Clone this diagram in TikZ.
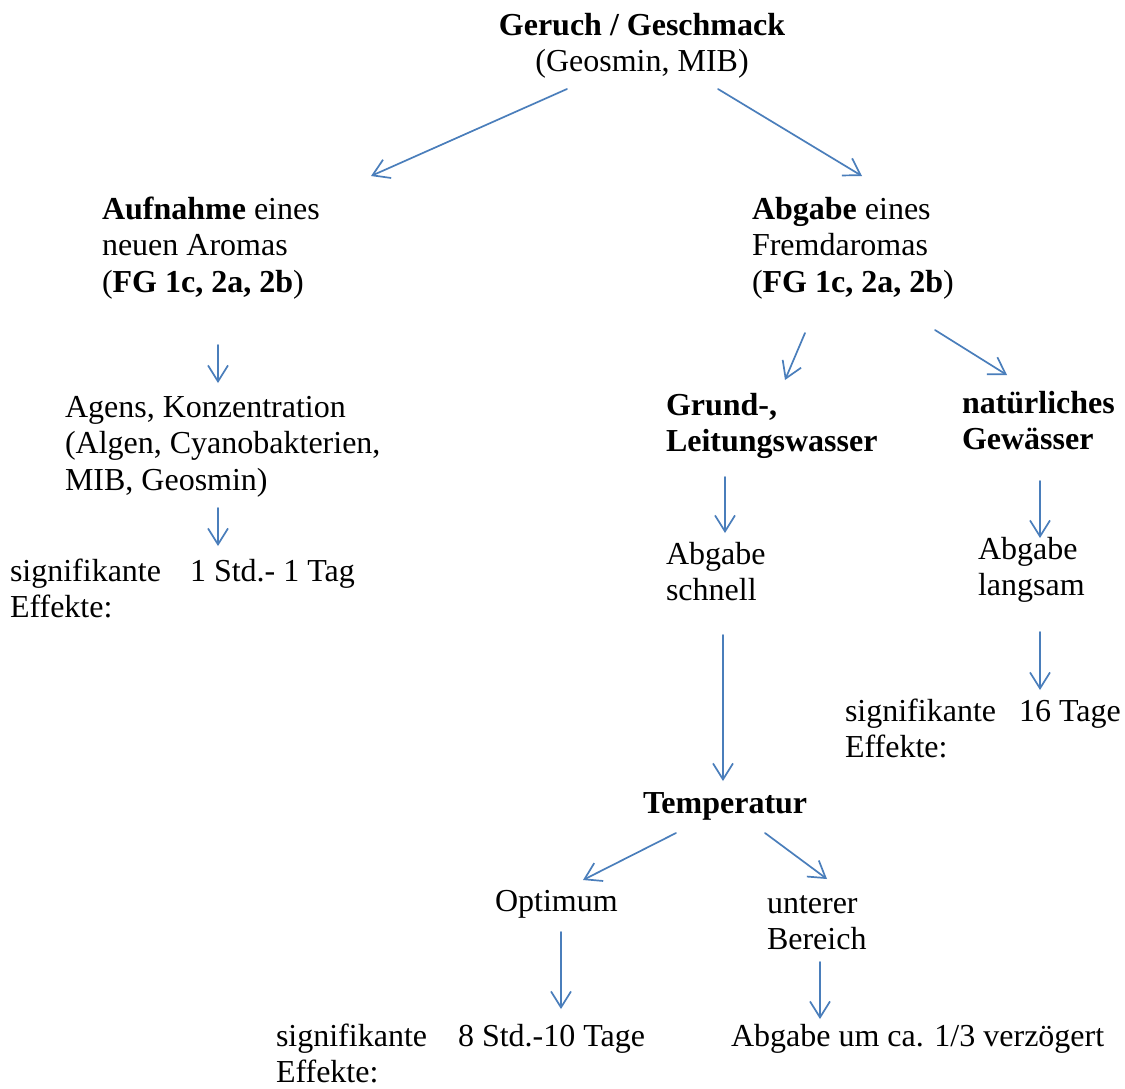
\documentclass[tikz,border=0pt]{standalone}
\usepackage{fontspec}
\setmainfont{Liberation Serif}
\usetikzlibrary{arrows.meta}
\definecolor{arrblue}{HTML}{4A7EBB}
\newcommand{\mll}[1]{\begin{tabular}[t]{@{}l@{}}#1\end{tabular}}
\newcommand{\mlc}[1]{\begin{tabular}[t]{@{}c@{}}#1\end{tabular}}
\begin{document}
\begin{tikzpicture}[x=1pt,y=-1pt,
  txt/.style={anchor=base west,inner sep=0pt,outer sep=0pt,font=\fontsize{32}{36.5}\selectfont},
  arr/.style={draw=arrblue,line width=1.7pt,line cap=round,-{Straight Barb[length=16pt,width=20pt,line width=1.7pt]}}]
\useasboundingbox[fill=white] (0,0) rectangle (1125,1088);

\node[txt,anchor=base] (top) at (642,35) {\mlc{\textbf{Geruch / Geschmack}\\(Geosmin, MIB)}};
\node[txt] (auf) at (102,219) {\mll{\textbf{Aufnahme} eines\\neuen Aromas\\(\textbf{FG 1c, 2a, 2b})}};
\node[txt] (abg) at (752,219) {\mll{\textbf{Abgabe} eines\\Fremdaromas\\(\textbf{FG 1c, 2a, 2b})}};
\node[txt] (agens) at (65,417) {\mll{Agens, Konzentration\\(Algen, Cyanobakterien,\\MIB, Geosmin)}};
\node[txt] (sig1) at (10,581) {\mll{signifikante\\Effekte:}};
\node[txt] (t1) at (190,581) {1 Std.- 1 Tag};
\node[txt] (grund) at (666,415) {\mll{\textbf{Grund-,}\\\textbf{Leitungswasser}}};
\node[txt] (nat) at (962,413) {\mll{\textbf{natürliches}\\\textbf{Gewässer}}};
\node[txt] (schnell) at (666,564) {\mll{Abgabe\\schnell}};
\node[txt] (langsam) at (978,559) {\mll{Abgabe\\langsam}};
\node[txt] (sig2) at (845,721) {\mll{signifikante\\Effekte:}};
\node[txt] (t2) at (1019,721) {16 Tage};
\node[txt] (temp) at (643,813) {\textbf{Temperatur}};
\node[txt] (opt) at (495,911) {Optimum};
\node[txt] (unt) at (767,913) {\mll{unterer\\Bereich}};
\node[txt] (sig3) at (276,1046) {\mll{signifikante\\Effekte:}};
\node[txt] (t3) at (458,1046) {8 Std.-10 Tage};
\node[txt] (verz) at (731,1046) {Abgabe um ca. 1/3 verzögert};

\draw[arr] ([shift={(-75,54)}]top.base) -- ([shift={(269,-43)}]auf.base west);
\draw[arr] ([shift={(76,54)}]top.base) -- ([shift={(110,-43)}]abg.base west);
\draw[arr] ([shift={(116,126)}]auf.base west) -- ([shift={(153,-34)}]agens.base west);
\draw[arr] ([shift={(153,91)}]agens.base west) -- ([shift={(28,-35)}]t1.base west);
\draw[arr] ([shift={(53,114)}]abg.base west) -- ([shift={(119,-35)}]grund.base west);
\draw[arr] ([shift={(183,111)}]abg.base west) -- ([shift={(45,-38)}]nat.base west);
\draw[arr] ([shift={(59,62)}]grund.base west) -- ([shift={(59,-31)}]schnell.base west);
\draw[arr] ([shift={(78,68)}]nat.base west) -- ([shift={(62,-21)}]langsam.base west);
\draw[arr] ([shift={(57,71)}]schnell.base west) -- ([shift={(80,-32)}]temp.base west);
\draw[arr] ([shift={(62,73)}]langsam.base west) -- ([shift={(21,-31)}]t2.base west);
\draw[arr] ([shift={(33,20)}]temp.base west) -- ([shift={(88,-31)}]opt.base west);
\draw[arr] ([shift={(122,20)}]temp.base west) -- ([shift={(60,-34)}]unt.base west);
\draw[arr] ([shift={(66,21)}]opt.base west) -- ([shift={(103,-37)}]t3.base west);
\draw[arr] ([shift={(53,49)}]unt.base west) -- ([shift={(89,-27)}]verz.base west);
\end{tikzpicture}
\end{document}
